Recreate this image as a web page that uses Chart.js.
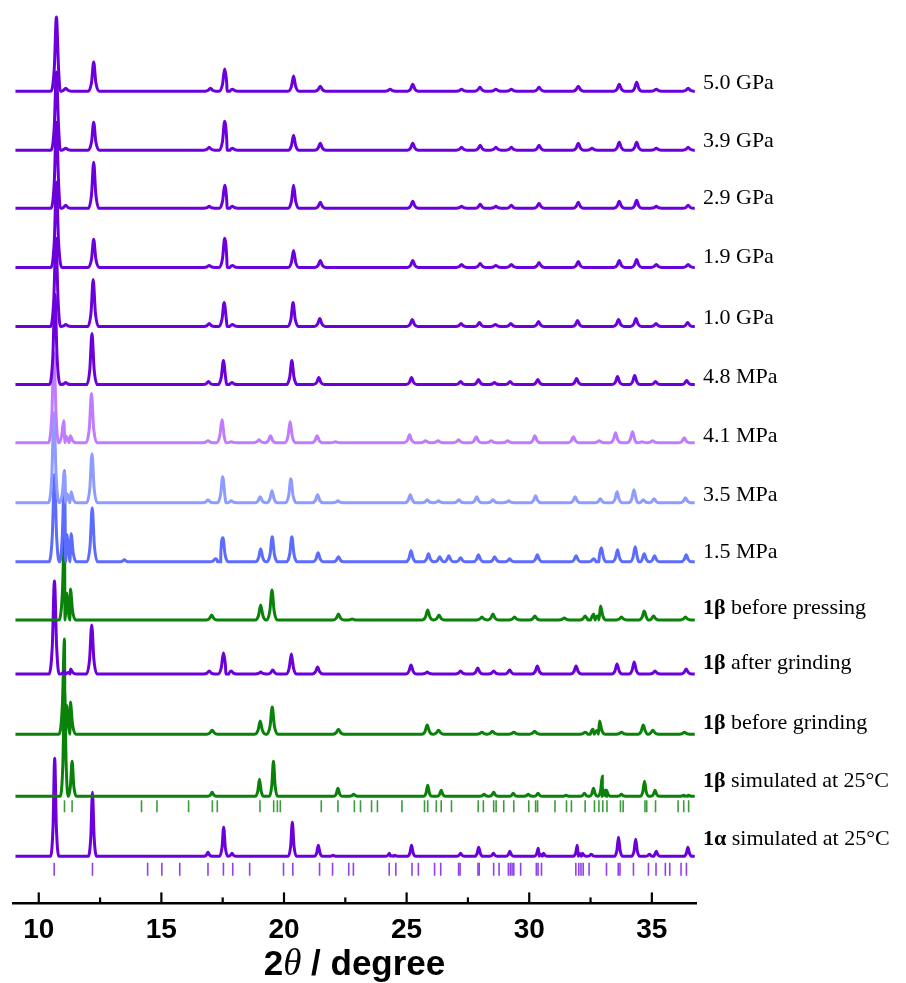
<!DOCTYPE html>
<html>
<head>
<meta charset="utf-8">
<script src="https://cdn.jsdelivr.net/npm/chart.js@4.4.1/dist/chart.umd.min.js"></script>
<style>
  html, body { margin: 0; padding: 0; background: #fff; }
  #wrap { width: 906px; height: 983px; }
</style>
</head>
<body>
<div id="wrap"><canvas id="myChart"></canvas></div>
<script>
// x axis
const tickValues = [10, 15, 20, 25, 30, 35]
const minorTicks = [12.5, 17.5, 22.5, 27.5, 32.5]

// pattern names, top to bottom, and their vertical stacking offsets
const names = ["5.0 GPa", "3.9 GPa", "2.9 GPa", "1.9 GPa", "1.0 GPa", "4.8 MPa", "4.1 MPa", "3.5 MPa", "1.5 MPa",
  "1β before pressing", "1β after grinding", "1β before grinding", "1β simulated at 25°C", "1α simulated at 25°C"]
const offsets = [811, 752, 694, 635, 576, 518, 460, 400, 341, 283, 229, 169, 107, 47]

// peaks: [2theta, intensity above baseline]
const p50GPa = [[10.72,74],[11.1,3],[12.24,29],[17.0,3],[17.58,22],[17.9,2],[20.39,15],[21.48,5],[24.33,2],[25.25,7],[27.24,2],[27.99,4],[28.64,2],[29.27,2],[30.4,4],[32.0,5],[33.67,7],[34.38,9],[35.18,2],[36.48,3]]
const p39GPa = [[10.72,78],[11.1,2],[12.24,28],[16.95,3],[17.58,29],[17.9,2],[20.39,15],[21.48,7],[25.25,7],[27.24,3],[28.0,5],[28.64,3],[29.27,3],[30.4,5],[32.0,7],[32.56,2],[33.67,8],[34.38,8],[35.18,2],[36.48,3]]
const p29GPa = [[10.72,86],[11.1,3],[12.24,46],[16.95,2],[17.58,23],[17.9,2],[20.39,23],[21.48,6],[25.25,7],[27.24,2],[28.0,4],[28.64,2],[29.27,3],[30.4,5],[32.0,6],[33.67,7],[34.38,8],[35.18,2],[36.48,3]]
const p19GPa = [[10.72,85],[12.24,28],[16.95,2],[17.58,29],[17.9,2],[20.39,17],[21.48,7],[25.25,7],[27.24,3],[28.0,4],[28.64,2],[29.27,3],[30.4,5],[32.0,6],[33.67,7],[34.38,8],[35.18,3],[36.48,3]]
const p10GPa = [[10.7,88],[11.1,2],[12.22,47],[16.95,3],[17.56,24],[17.9,2],[20.37,24],[21.46,8],[25.23,7],[27.22,3],[27.97,4],[28.62,2],[29.25,3],[30.38,5],[31.97,6],[33.64,7],[34.35,8],[35.17,3],[36.46,4]]
const p48MPa = [[10.66,90],[11.1,2],[12.17,51],[16.92,3],[17.53,24],[17.88,2],[20.32,24],[21.42,7],[25.2,7],[27.2,3],[27.93,5],[28.58,2],[29.22,3],[30.35,5],[31.93,6],[33.6,8],[34.3,9],[35.15,3],[36.42,4]]
const p41MPa = [[10.62,90],[11.02,22],[11.29,7],[12.15,49],[16.9,2],[17.47,23],[17.85,1],[18.98,3],[19.45,7],[20.25,21],[21.35,7],[22.1,1],[25.12,8],[25.77,2],[26.28,2],[27.12,3],[27.84,6],[28.45,2],[29.12,2],[30.23,7],[31.8,6],[32.85,2],[33.52,10],[34.21,11],[34.6,1],[35.03,2],[36.32,5]]
const p35MPa = [[10.62,90],[11.05,31],[11.32,11],[12.17,49],[16.9,3],[17.5,26],[17.85,2],[19.03,6],[19.51,12],[20.28,24],[21.37,8],[22.2,2],[25.15,8],[25.84,3],[26.3,2],[27.13,3],[27.86,6],[28.52,3],[29.16,2],[30.26,7],[31.87,6],[32.9,4],[33.58,11],[34.27,13],[34.65,3],[35.09,4],[36.37,5]]
const p15MPa = [[10.64,87],[11.05,91],[11.32,28],[12.18,54],[13.49,2],[17.2,3],[17.51,24],[19.05,13],[19.52,25],[20.32,25],[21.39,9],[22.22,5],[25.18,11],[25.89,8],[26.35,5],[26.72,6],[27.2,4],[27.93,7],[28.59,5],[29.2,3],[30.33,7],[31.91,6],[32.62,3],[32.94,14],[33.6,12],[34.32,15],[34.69,8],[35.11,6],[36.4,7]]
const pBefPress = [[11.05,89],[11.29,31],[17.05,5],[19.05,15],[19.51,30],[22.22,6],[22.78,1],[25.86,10],[26.32,5],[28.07,3],[28.52,6],[29.4,3],[30.23,4],[31.43,2],[32.28,4],[32.62,6],[32.91,14],[33.76,3],[34.69,9],[35.07,4],[36.37,3]]
const pAftGrind = [[10.64,93],[11.05,3],[11.3,5],[12.16,49],[16.95,3],[17.53,21],[17.85,3],[19.05,2],[19.54,4],[20.3,20],[21.37,7],[25.18,9],[25.84,2],[27.2,3],[27.9,6],[28.55,3],[29.2,4],[30.33,8],[31.91,8],[33.58,10],[34.28,12],[35.13,3],[36.4,5]]
const pBefGrind = [[11.05,95],[11.29,32],[17.07,4],[19.03,13],[19.52,27],[22.22,5],[25.84,9],[26.3,4],[28.07,2],[28.5,3],[29.37,2],[30.22,3],[32.28,2],[32.6,5],[32.87,13],[33.76,2],[34.65,9],[35.04,4],[36.33,2]]
const pBetaSim = [[11.05,105],[11.36,35],[17.07,4],[19.0,17],[19.57,35],[22.2,8],[22.84,2],[25.86,11],[26.41,6],[28.16,2],[28.55,4],[29.35,3],[29.96,2],[30.36,3],[31.5,1],[32.25,3],[32.62,8],[32.98,20],[33.15,6],[33.76,2],[34.7,15],[35.13,6],[36.3,1],[36.5,1]]
const pAlphaSim = [[10.65,98],[12.19,64],[16.9,4],[17.54,29],[17.88,3],[20.34,34],[21.4,11],[22.0,1],[24.3,3],[24.52,1],[25.2,11],[27.2,3],[27.94,9],[28.54,3],[29.21,5],[30.37,8],[30.58,3],[31.96,11],[32.17,3],[32.53,2],[33.64,19],[34.34,17],[34.9,2],[35.18,5],[36.47,9]]

// reflection positions (tick rows)
const betaRefl = [11.05,11.36,14.19,14.82,16.11,17.08,17.28,19.02,19.58,19.73,19.85,21.52,22.2,22.87,23.12,23.57,23.81,24.81,25.73,25.86,26.21,26.41,26.83,27.92,28.13,28.55,28.65,28.96,29.37,29.98,30.26,30.34,31.05,31.52,31.72,32.28,32.66,32.84,33.0,33.17,33.72,33.83,34.72,34.79,35.15,36.07,36.3,36.5]
const alphaRefl = [10.63,12.19,14.44,15.02,15.75,16.9,17.53,17.91,18.6,19.98,20.36,21.45,21.98,22.64,22.83,24.29,24.56,25.22,25.48,26.14,26.39,27.12,27.18,27.91,27.96,28.55,28.77,29.15,29.23,29.3,29.37,29.65,30.29,30.36,30.5,31.9,32.02,32.11,32.2,32.44,33.15,33.63,33.7,34.25,34.86,35.17,35.55,35.73,36.19,36.41]
const betaReflRow = 97
const alphaReflRow = 34

const patterns = [p50GPa, p39GPa, p29GPa, p19GPa, p10GPa, p48MPa, p41MPa, p35MPa, p15MPa,
  pBefPress, pAftGrind, pBefGrind, pBetaSim, pAlphaSim]

// styling
const PURPLE = "#6c00dc", GREEN = "#0a820a"
const colors = [PURPLE, PURPLE, PURPLE, PURPLE, PURPLE, PURPLE, "#c07cff", "#8e9cff", "#5c6cff",
  GREEN, PURPLE, GREEN, GREEN, PURPLE]
const labelLift = [8, 9, 10, 10, 8, 7, 6, 8, 10, 12, 11, 11, 15, 17]
const isSim = [false, false, false, false, false, false, false, false, false, false, false, false, true, true]

// peak list -> polyline the line chart can draw
function profile(peaks, w, off) {
  let pts = [[9.05, 0], [36.75, 0]]
  peaks.forEach(([x, h]) => {
    pts.push([x - w, 0], [x - w * 0.4, h * 0.3], [x, h], [x + w * 0.4, h * 0.3], [x + w, 0])
  })
  pts.sort((a, b) => a[0] - b[0])
  return pts.map(([x, y]) => ({ x: x, y: y + off }))
}

const datasets = patterns.map((p, i) => ({
  label: names[i],
  data: profile(p, isSim[i] ? 0.17 : 0.22, offsets[i]),
  showLine: true,
  borderColor: colors[i],
  borderWidth: 3,
  pointRadius: 0,
  cubicInterpolationMode: "monotone"
}))

datasets.push({
  label: "beta reflections",
  data: betaRefl.map(x => ({ x: x, y: betaReflRow })),
  showLine: false,
  pointStyle: "line",
  pointRotation: 90,
  pointRadius: 6,
  pointBorderWidth: 1.6,
  pointBorderColor: "#3c9c3c",
  borderColor: "#3c9c3c"
})
datasets.push({
  label: "alpha reflections",
  data: alphaRefl.map(x => ({ x: x, y: alphaReflRow })),
  showLine: false,
  pointStyle: "line",
  pointRotation: 90,
  pointRadius: 6.5,
  pointBorderWidth: 1.6,
  pointBorderColor: "#9040f0",
  borderColor: "#9040f0"
})

// inward ticks on the x axis
const innerTicks = {
  id: "innerTicks",
  afterDraw(chart) {
    const { ctx, chartArea, scales: { x } } = chart
    ctx.save()
    ctx.strokeStyle = "#000"
    ctx.lineWidth = 2.2
    tickValues.forEach(v => {
      const px = x.getPixelForValue(v)
      ctx.beginPath(); ctx.moveTo(px, chartArea.bottom); ctx.lineTo(px, chartArea.bottom - 11); ctx.stroke()
    })
    minorTicks.forEach(v => {
      const px = x.getPixelForValue(v)
      ctx.beginPath(); ctx.moveTo(px, chartArea.bottom); ctx.lineTo(px, chartArea.bottom - 6); ctx.stroke()
    })
    ctx.restore()
  }
}

// pattern names at the right end of each trace
const seriesLabels = {
  id: "seriesLabels",
  afterDraw(chart) {
    const { ctx, chartArea, scales: { y } } = chart
    ctx.save()
    ctx.fillStyle = "#000"
    ctx.textBaseline = "middle"
    names.forEach((n, i) => {
      const yy = y.getPixelForValue(offsets[i]) - labelLift[i]
      let xx = chartArea.right + 7
      let rest = n
      const m = n.match(/^1[αβ]/)
      if (m) {
        ctx.font = 'bold 22px "Liberation Serif"'
        ctx.fillText(m[0], xx, yy)
        xx += ctx.measureText(m[0]).width
        rest = n.slice(m[0].length)
      }
      ctx.font = '22px "Liberation Serif"'
      ctx.fillText(rest, xx, yy)
    })
    ctx.restore()
  }
}

// axis title with italic theta
const axisTitle = {
  id: "axisTitle",
  afterDraw(chart) {
    const { ctx, chartArea } = chart
    const parts = [
      ["2", 'bold 35px "Liberation Sans"'],
      ["θ", 'italic 37px "Liberation Serif"'],
      [" / degree", 'bold 35px "Liberation Sans"']
    ]
    ctx.save()
    ctx.fillStyle = "#000"
    ctx.textBaseline = "alphabetic"
    let total = 0
    parts.forEach(([t, f]) => { ctx.font = f; total += ctx.measureText(t).width })
    let xx = (chartArea.left + chartArea.right) / 2 - total / 2
    parts.forEach(([t, f]) => {
      ctx.font = f
      ctx.fillText(t, xx, 975)
      xx += ctx.measureText(t).width
    })
    ctx.restore()
  }
}

new Chart(document.getElementById("myChart"), {
  type: "scatter",
  data: { datasets: datasets },
  options: {
    responsive: true,
    maintainAspectRatio: false,
    animation: false,
    layout: { autoPadding: false, padding: { left: 13, right: 210, top: 0, bottom: 26 } },
    plugins: { legend: { display: false }, tooltip: { enabled: false } },
    scales: {
      x: {
        type: "linear",
        min: 8.95,
        max: 36.8,
        afterBuildTicks: s => { s.ticks = tickValues.map(v => ({ value: v })) },
        grid: { display: false, drawTicks: false },
        border: { display: true, color: "#000", width: 2.6 },
        ticks: {
          color: "#000",
          padding: 10,
          font: { family: "Liberation Sans", size: 28, weight: "bold" }
        }
      },
      y: {
        display: false,
        min: 0,
        max: 902
      }
    }
  },
  plugins: [innerTicks, seriesLabels, axisTitle]
})
</script>
</body>
</html>
